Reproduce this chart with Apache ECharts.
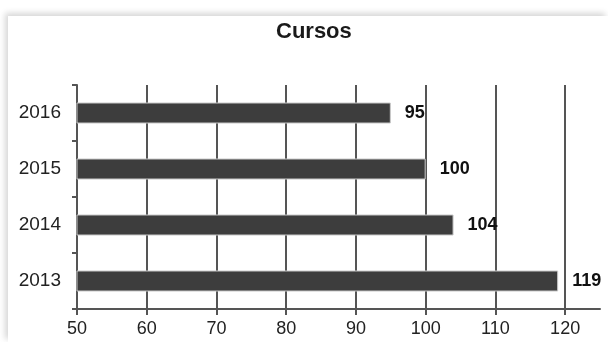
<!DOCTYPE html>
<html>
<head>
<meta charset="utf-8">
<script src="https://cdn.jsdelivr.net/npm/echarts@6/dist/echarts.min.js"></script>
<style>
  html, body { margin: 0; padding: 0; background: #fff; overflow: hidden; }
  #card {
    position: absolute; left: 8px; top: 16px; width: 600px; height: 326px;
    background: #fff;
    box-shadow: -3px -3px 6px rgba(0, 0, 0, 0.16);
  }
  #chart { width: 600px; height: 326px; }
</style>
</head>
<body>
<div id="card"><div id="chart"></div></div>
<script>
// Courses per year
const years = ['2013', '2014', '2015', '2016'];
const courses = [119, 104, 100, 95];
const xTicks = [50, 60, 70, 80, 90, 100, 110, 120];

const chart = echarts.init(document.getElementById('chart'), null, { renderer: 'canvas' });

chart.setOption({
  animation: false,
  backgroundColor: '#fff',
  title: {
    text: 'Cursos',
    left: 263,
    top: 0,
    textStyle: {
      fontFamily: 'Liberation Sans, Arial, sans-serif',
      fontSize: 22,
      fontWeight: 'bold',
      color: '#1a1a1a'
    }
  },
  grid: { left: 69, right: 8, top: 69, bottom: 33, containLabel: false },
  xAxis: {
    type: 'value',
    min: 50,
    max: 125,
    interval: 10,
    axisLine: { show: true, lineStyle: { color: '#555', width: 2 } },
    axisTick: { show: true, length: 6, customValues: xTicks, lineStyle: { color: '#555', width: 2 } },
    axisLabel: {
      customValues: xTicks,
      margin: 11,
      fontFamily: 'Liberation Sans, Arial, sans-serif',
      fontSize: 18,
      color: '#222'
    },
    splitLine: { show: true, lineStyle: { color: '#555', width: 2 } }
  },
  yAxis: {
    type: 'category',
    data: years,
    axisLine: { show: true, lineStyle: { color: '#555', width: 2 } },
    axisTick: { show: true, length: 5, lineStyle: { color: '#555', width: 2 } },
    axisLabel: {
      margin: 16,
      fontFamily: 'Liberation Sans, Arial, sans-serif',
      fontSize: 19,
      color: '#222'
    }
  },
  series: [{
    type: 'bar',
    data: courses,
    barWidth: 21,
    itemStyle: { color: '#3d3d3d', borderColor: '#c8c8c8', borderWidth: 1 },
    label: {
      show: true,
      position: 'right',
      distance: 14,
      fontFamily: 'Liberation Sans, Arial, sans-serif',
      fontSize: 18,
      fontWeight: 'bold',
      color: '#111'
    }
  }]
});
</script>
</body>
</html>
